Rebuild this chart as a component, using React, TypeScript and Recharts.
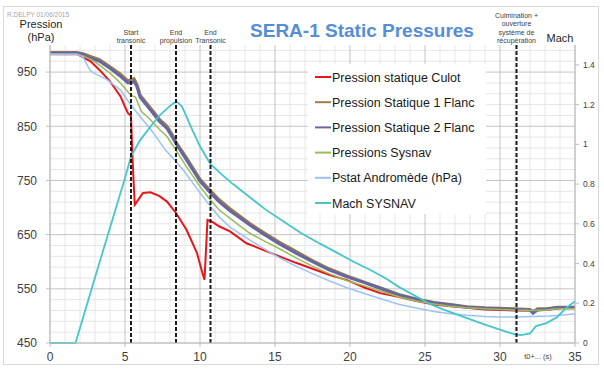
import { CartesianGrid, ComposedChart, Line, ReferenceLine, XAxis, YAxis } from "recharts";

const FONT = '"Liberation Sans", Arial, sans-serif';

const culotT = [0, 1.8, 2.1, 2.7, 3.3, 4.0, 4.7, 5.0, 5.2, 5.4, 5.5, 5.65, 5.9, 6.2, 6.7, 7.3, 7.8, 8.4, 9.1, 9.8, 10.2, 10.3, 10.5, 10.8, 11.3, 12.0, 13.1, 14.2, 15.3, 16.4, 17.5, 18.6, 19.8, 21.0, 22.0, 23.3, 24.5, 25.6, 26.7, 27.8, 29.0, 30.0, 31.0, 32.2, 33.3, 34.4, 35];
const culotP = [983, 983, 979, 970, 954, 933, 905, 886, 874, 869, 790, 705, 715, 727, 728, 721, 711, 690, 659, 616, 575, 567, 677, 674, 665, 656, 634, 622, 610, 598, 587, 576, 566, 552, 542, 535, 527, 521, 518, 515, 512, 511, 510, 510, 512, 515, 517];

const flancT = [0, 1.8, 2.2, 2.7, 3.3, 4.0, 4.7, 5.2, 5.5, 5.6, 5.8, 6.0, 6.7, 7.3, 7.8, 8.2, 8.4, 9.1, 10.0, 10.7, 11.3, 12.0, 13.3, 14.3, 15.3, 16.4, 17.5, 18.6, 19.8, 21.0, 22.0, 23.3, 24.5, 25.6, 26.7, 27.8, 29.0, 30.0, 31.0, 32.0, 32.2, 32.5, 33.0, 33.8, 35];
const flanc1P = [986, 986, 984, 979, 973, 960, 946, 934, 937, 938, 927, 908, 884, 863, 850, 832, 821, 792, 752, 731, 714, 698, 671, 653, 636, 619, 602, 587, 574, 562, 552, 539, 531, 525, 521, 517, 515, 514, 513, 512, 507, 513, 513, 516, 516];
const flanc2P = [985, 985, 982, 976, 970, 957, 942, 930, 931, 933, 923, 904, 880, 859, 846, 828, 818, 788, 749, 727, 710, 694, 668, 650, 633, 616, 600, 585, 572, 561, 551, 538, 530, 524, 520, 516, 514, 513, 512, 511, 505, 511, 512, 515, 515];

const sysnavT = [0, 1.8, 2.2, 2.7, 3.3, 4.0, 4.7, 5.3, 5.5, 5.7, 5.9, 6.1, 6.7, 7.3, 7.8, 8.4, 9.1, 10.0, 10.7, 11.3, 12.2, 13.3, 14.3, 15.3, 16.4, 17.5, 18.6, 19.8, 21.0, 22.0, 23.3, 24.5, 25.6, 26.7, 27.8, 29.0, 30.0, 31.0, 32.2, 33.0, 33.8, 35];
const sysnavP = [983, 983, 980, 974, 963, 948, 930, 910, 906, 904, 890, 877, 862, 844, 831, 806, 775, 739, 714, 695, 676, 653, 638, 624, 607, 592, 578, 565, 555, 546, 535, 527, 522, 518, 515, 513, 512, 511, 510, 511, 513, 513];

const andromedeT = [0, 1.8, 2.2, 2.5, 2.7, 3.0, 3.8, 4.7, 5.3, 6.0, 6.7, 7.7, 8.4, 9.0, 10.0, 10.7, 11.3, 12.0, 13.1, 14.2, 15.3, 16.4, 17.5, 18.6, 19.8, 21.0, 22.0, 23.3, 24.5, 25.6, 26.7, 27.8, 29.0, 30.0, 31.0, 32.2, 33.3, 34.4, 35];
const andromedeP = [983, 983, 978, 962, 952, 947, 936, 917, 893, 868, 845, 806, 785, 765, 727, 702, 682, 664, 644, 625, 607, 592, 578, 565, 552, 541, 532, 521, 514, 508, 504, 501, 499, 498, 498, 499, 500, 502, 504];

// Mach (right axis)
const machT = [0, 1.7, 3.0, 4.0, 5.0, 5.4, 6.0, 6.7, 7.3, 7.8, 8.2, 8.45, 8.8, 9.1, 9.5, 10.0, 10.7, 11.5, 12.2, 13.3, 14.4, 15.8, 16.7, 18.0, 19.0, 20.2, 21.3, 22.4, 23.3, 24.4, 25.5, 26.7, 27.8, 28.9, 30.0, 30.5, 31.0, 31.4, 32.0, 32.4, 33.1, 33.8, 34.4, 35];
const machV = [0, 0, 0.33, 0.58, 0.83, 0.94, 1.02, 1.09, 1.145, 1.18, 1.205, 1.215, 1.19, 1.14, 1.07, 0.99, 0.9, 0.845, 0.8, 0.735, 0.67, 0.6, 0.555, 0.5, 0.46, 0.41, 0.37, 0.325, 0.28, 0.235, 0.19, 0.155, 0.125, 0.095, 0.067, 0.055, 0.043, 0.04, 0.048, 0.085, 0.1, 0.13, 0.175, 0.21];

const xTicks = [0, 5, 10, 15, 20, 25, 30, 35];
const xMinor = [1, 2, 3, 4, 6, 7, 8, 9, 11, 12, 13, 14, 16, 17, 18, 19, 21, 22, 23, 24, 26, 27, 28, 29, 31, 32, 33, 34];
const pTicks = [450, 550, 650, 750, 850, 950];
const pMinor = [470, 490, 510, 530, 570, 590, 610, 630, 670, 690, 710, 730, 770, 790, 810, 830, 870, 890, 910, 930, 970, 990];
const machTicks = [0, 0.2, 0.4, 0.6, 0.8, 1, 1.2, 1.4];

const events = [
  { t: 5.4, lines: ["Start", "transonic"] },
  { t: 8.4, lines: ["End", "propulsion"] },
  { t: 10.7, lines: ["End", "Transonic"] },
  { t: 31.1, lines: ["Culmination +", "ouverture", "système de", "récupération"] },
];

const zip = (t: number[], v: number[]) => t.map((x, i) => ({ t: x, v: v[i] }));

const series = [
  { name: "Pression statique Culot", color: "#e8161b", axis: "p", width: 2, data: zip(culotT, culotP) },
  { name: "Pression Statique 1 Flanc", color: "#9b7d45", axis: "p", width: 3, data: zip(flancT, flanc1P) },
  { name: "Pression Statique 2 Flanc", color: "#6666a3", axis: "p", width: 3, data: zip(flancT, flanc2P) },
  { name: "Pressions Sysnav", color: "#9bbb59", axis: "p", width: 1.5, data: zip(sysnavT, sysnavP) },
  { name: "Pstat Andromède (hPa)", color: "#9cc3f0", axis: "p", width: 1.5, data: zip(andromedeT, andromedeP) },
  { name: "Mach SYSNAV", color: "#45c6c8", axis: "m", width: 1.8, data: zip(machT, machV) },
];

function EventLabel(props: any) {
  const { viewBox, lines } = props;
  if (!viewBox) return null;
  const x = viewBox.x;
  const base = viewBox.y - 2;
  return (
    <text textAnchor="middle" fontSize={7} fill="#404040" fontFamily={FONT}>
      {lines.map((l: string, i: number) => (
        <tspan key={i} x={x} y={base - (lines.length - 1 - i) * 8.5}>
          {l}
        </tspan>
      ))}
    </text>
  );
}

export default function App() {
  return (
    <div style={{ position: "absolute", left: 0, top: 0, width: 604, height: 369, background: "#fff", fontFamily: FONT }}>
      <ComposedChart width={604} height={369} margin={{ top: 45, right: 0, bottom: 0, left: 0 }}>
        <CartesianGrid yAxisId="p" horizontalValues={pMinor} verticalValues={xMinor} stroke="#e6e6e6" />
        <CartesianGrid yAxisId="p" horizontalValues={pTicks} verticalValues={xTicks} stroke="#c4c4c4" />
        <XAxis
          type="number"
          dataKey="t"
          domain={[0, 35]}
          ticks={xTicks}
          interval={0}
          height={26}
          tickSize={4}
          tickMargin={5}
          axisLine={{ stroke: "#bfbfbf" }}
          tickLine={{ stroke: "#bfbfbf" }}
          tick={{ fontSize: 12, fill: "#404040", fontFamily: FONT }}
        />
        <YAxis
          yAxisId="p"
          domain={[450, 1000]}
          ticks={pTicks}
          interval={0}
          width={50}
          tickSize={4}
          tickMargin={9}
          axisLine={{ stroke: "#bfbfbf" }}
          tickLine={{ stroke: "#bfbfbf" }}
          tick={{ fontSize: 12, fill: "#404040", fontFamily: FONT }}
        />
        <YAxis
          yAxisId="m"
          orientation="right"
          domain={[0, 1.5]}
          ticks={machTicks}
          interval={0}
          width={29}
          tickSize={4}
          tickMargin={4}
          axisLine={{ stroke: "#bfbfbf" }}
          tickLine={{ stroke: "#bfbfbf" }}
          tick={{ fontSize: 8.5, fill: "#404040", fontFamily: FONT }}
        />
        {series.map((s) => (
          <Line
            key={s.name}
            name={s.name}
            yAxisId={s.axis}
            data={s.data}
            dataKey="v"
            type="linear"
            stroke={s.color}
            strokeWidth={s.width}
            dot={false}
            isAnimationActive={false}
          />
        ))}
        {events.map((e) => (
          <ReferenceLine
            key={e.t}
            x={e.t}
            yAxisId="p"
            stroke="#1a1a1a"
            strokeWidth={2}
            strokeDasharray="4 2"
            label={<EventLabel lines={e.lines} />}
          />
        ))}
      </ComposedChart>
      <svg width={604} height={369} style={{ position: "absolute", left: 0, top: 0, pointerEvents: "none" }} fontFamily={FONT}>
        <rect x={3.5} y={6.5} width={595} height={358} fill="none" stroke="#d9d9d9" />
        <text x={7} y={17} fontSize={6.5} fill="#a6a6a6">R.DELPY 01/06/2015</text>
        <text x={41} y={28} fontSize={11} textAnchor="middle" fill="#262626">Pression</text>
        <text x={41} y={41} fontSize={11} textAnchor="middle" fill="#262626">(hPa)</text>
        <text x={560} y={42} fontSize={11} textAnchor="middle" fill="#262626">Mach</text>
        <text x={362} y={37} fontSize={19} fontWeight="bold" textAnchor="middle" fill="#558ed5">SERA-1 Static Pressures</text>
        <text x={538} y={359} fontSize={7.5} textAnchor="middle" fill="#404040">t0+... (s)</text>
        <rect x={308} y={64} width={178} height={150} fill="#fff" />
        {series.map((s, i) => (
          <g key={s.name}>
            <line x1={315} x2={331} y1={77 + i * 25.2} y2={77 + i * 25.2} stroke={s.color} strokeWidth={2} />
            <text x={332} y={81.5 + i * 25.2} fontSize={12.5} fill="#1a1a1a">{s.name}</text>
          </g>
        ))}
      </svg>
    </div>
  );
}
